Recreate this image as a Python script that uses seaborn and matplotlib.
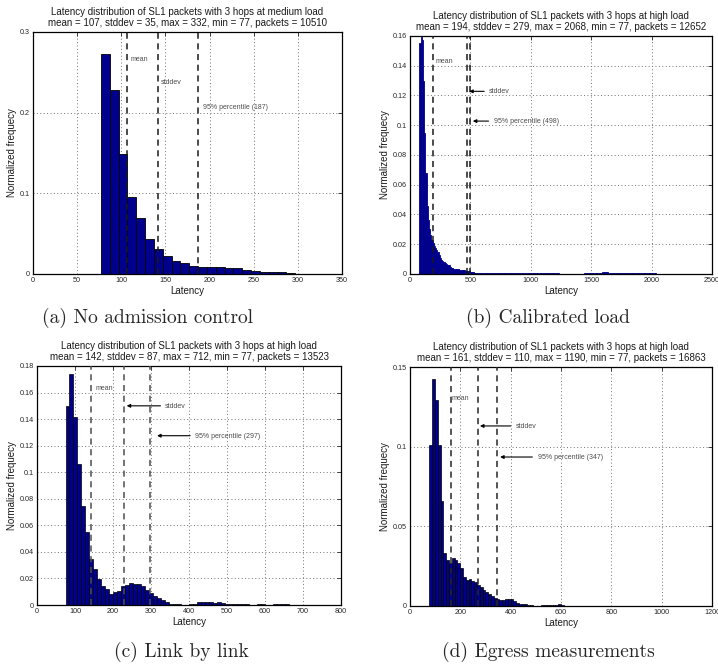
import numpy as np
import pandas as pd
import matplotlib
matplotlib.use("Agg")
import matplotlib.pyplot as plt
import seaborn as sns
from matplotlib.ticker import FuncFormatter

# ---------------- data ----------------
# (a) No admission control : bins of width 10 starting at 77
a_heights = [0.273, 0.228, 0.149, 0.096, 0.070, 0.044, 0.031, 0.0225, 0.016, 0.0135,
             0.0103, 0.009, 0.0087, 0.0087, 0.008, 0.007, 0.005, 0.0033, 0.0025, 0.002,
             0.002, 0.001, 0.0006, 0.0004, 0.0003, 0.0003]
a_stats = {"mean": 107, "std": 35, "p95": 187}

# (b) Calibrated load : fine bins of width 10 from 77 to 537, then 50-wide tail bins
b_fine = [0.155, 0.159, 0.157, 0.130, 0.095, 0.068, 0.046, 0.036, 0.030, 0.026,
          0.023, 0.021, 0.019, 0.0175, 0.0163, 0.0145, 0.0125, 0.011, 0.0095, 0.0085,
          0.0078, 0.0073, 0.0068, 0.0063, 0.0058, 0.005, 0.0042, 0.0037, 0.0035, 0.0034,
          0.0034, 0.0032, 0.0031, 0.003, 0.0029, 0.0027, 0.0026, 0.0024, 0.0022, 0.002,
          0.0018, 0.0017, 0.0016, 0.0014, 0.0012, 0.001]
b_tail = [0.0009, 0.0008, 0.0007, 0.0006, 0.0006, 0.0005, 0.0005, 0.0005, 0.0004, 0.0004,
          0.0004, 0.0004, 0.0004, 0.0004, 0.0003, 0.0003, 0.0003, 0.0003, 0.0004, 0.0006,
          0.0010, 0.0012, 0.0006, 0.0004, 0.0004, 0.0005, 0.0007, 0.0009, 0.0006, 0.0004,
          0.0003]
b_stats = {"mean": 194, "std": 279, "p95": 498}

# (c) Link by link : bins of width 10.5 starting at 75
c_heights = [0.150, 0.174, 0.1415, 0.106, 0.0744, 0.0553, 0.035, 0.027, 0.0193, 0.0143,
             0.012, 0.008, 0.0097, 0.0105, 0.014, 0.015, 0.0168, 0.016, 0.016, 0.014,
             0.0115, 0.009, 0.0068, 0.005, 0.0035, 0.002, 0.001, 0.0008, 0.0005, 0.0003,
             0.0003, 0.001, 0.001, 0.0025, 0.0025, 0.002, 0.002, 0.0015, 0.002, 0.0015,
             0.001, 0.001, 0.001, 0.0008, 0.0005, 0.0005, 0.0003, 0.0003, 0.0005, 0.0005,
             0.0003, 0.0003, 0.0005, 0.001, 0.0008, 0.0005, 0.0003, 0.0003, 0.0003, 0.0003,
             0.0003]
c_stats = {"mean": 142, "std": 87, "p95": 297}

# (d) Egress measurements : bins of width 11.125 from 77 to 611, then 50-wide tail bins
d_fine = [0.101, 0.1425, 0.129, 0.101, 0.066, 0.033, 0.029, 0.027, 0.030, 0.029,
          0.027, 0.024, 0.018, 0.0165, 0.017, 0.0155, 0.015, 0.013, 0.012, 0.010,
          0.009, 0.0077, 0.006, 0.005, 0.0045, 0.004, 0.0036, 0.0045, 0.0045, 0.0042,
          0.003, 0.002, 0.0015, 0.001, 0.001, 0.0006, 0.0005, 0.0003, 0.0003, 0.0003,
          0.0005, 0.0005, 0.0005, 0.0005, 0.0005, 0.0008, 0.001, 0.0005]
d_tail = [0.0003, 0.0003, 0.0003, 0.0003, 0.0003, 0.0002, 0.0002, 0.0002, 0.0001, 0.0001,
          0.0001, 0.0001]
d_stats = {"mean": 161, "std": 110, "p95": 347}

titles = [
    "Latency distribution of SL1 packets with 3 hops at medium load\n"
    "mean = 107, stddev = 35, max = 332, min = 77, packets = 10510",
    "Latency distribution of SL1 packets with 3 hops at high load\n"
    "mean = 194, stddev = 279, max = 2068, min = 77, packets = 12652",
    "Latency distribution of SL1 packets with 3 hops at high load\n"
    "mean = 142, stddev = 87, max = 712, min = 77, packets = 13523",
    "Latency distribution of SL1 packets with 3 hops at high load\n"
    "mean = 161, stddev = 110, max = 1190, min = 77, packets = 16863",
]
captions = ["(a) No admission control", "(b) Calibrated load",
            "(c) Link by link", "(d) Egress measurements"]
xlabel = "Latency"
ylabel = "Normalized frequecy"

# ---------------- bins ----------------
a_edges = 77 + 10 * np.arange(len(a_heights) + 1)
b_edges = np.concatenate([77 + 10 * np.arange(len(b_fine) + 1),
                          537 + 50 * np.arange(1, len(b_tail)), [2068]])
b_heights = b_fine + b_tail
c_edges = 75 + 10.5 * np.arange(len(c_heights) + 1)
d_edges = np.concatenate([77 + 11.125 * np.arange(len(d_fine) + 1),
                          611 + 50 * np.arange(1, len(d_tail)), [1190]])
d_heights = d_fine + d_tail

# ---------------- style ----------------
sns.set_style("white")
plt.rcParams["font.family"] = ["Liberation Sans", "DejaVu Sans"]

BAR = "#00008c"
fig = plt.figure(figsize=(7.18, 6.66), dpi=100)
W, H = 718, 666


def add_axes(l, r, t, b):
    return fig.add_axes([l / W, 1 - b / H, (r - l) / W, (b - t) / H])


axs = [add_axes(33, 342, 32, 274), add_axes(410, 712, 36, 274),
       add_axes(37, 341, 366, 605), add_axes(410, 712, 367, 606)]

panels = [
    dict(edges=a_edges, h=a_heights, ec="black", lw=0.6, xlim=(0, 350), xt=np.arange(0, 351, 50),
         ylim=(0, 0.3), yt=[0, 0.1, 0.2, 0.3], st=a_stats, lc="0.1",
         texts=[(110, 0.266, "mean"), (145, 0.237, "stddev"), (192, 0.206, "95% percentile (187)")],
         arrows=[]),
    dict(edges=b_edges, h=b_heights, ec=BAR, lw=0.6, xlim=(0, 2500), xt=np.arange(0, 2501, 500),
         ylim=(0, 0.16), yt=np.arange(0, 0.161, 0.02), st=b_stats, lc="0.1",
         texts=[(210, 0.143, "mean"), (655, 0.1225, "stddev"), (695, 0.1025, "95% percentile (498)")],
         arrows=[(490, 614, 0.1228), (520, 650, 0.1028)]),
    dict(edges=c_edges, h=c_heights, ec="black", lw=0.5, xlim=(0, 800), xt=np.arange(0, 801, 100),
         ylim=(0, 0.18), yt=np.arange(0, 0.181, 0.02), st=c_stats, lc="0.3",
         texts=[(153, 0.163, "mean"), (336, 0.1495, "stddev"), (415, 0.127, "95% percentile (297)")],
         arrows=[(236, 325, 0.150), (316, 403, 0.1275)]),
    dict(edges=d_edges, h=d_heights, ec="black", lw=0.5, xlim=(0, 1200), xt=np.arange(0, 1201, 200),
         ylim=(0, 0.15), yt=[0, 0.05, 0.1, 0.15], st=d_stats, lc="0.15",
         texts=[(166, 0.1305, "mean"), (421, 0.1125, "stddev"), (510, 0.093, "95% percentile (347)")],
         arrows=[(278, 400, 0.113), (358, 486, 0.0935)]),
]

fmt = FuncFormatter(lambda v, p: f"{v:g}")

for ax, p, title in zip(axs, panels, titles):
    edges = np.asarray(p["edges"], dtype=float)
    df = pd.DataFrame({"latency": (edges[:-1] + edges[1:]) / 2,
                       "freq": np.asarray(p["h"], dtype=float)})
    sns.histplot(data=df, x="latency", weights="freq", bins=list(edges), stat="count",
                 color=BAR, edgecolor=p["ec"], linewidth=p["lw"], alpha=1, ax=ax)
    ax.set_xlim(*p["xlim"])
    ax.set_ylim(*p["ylim"])
    ax.set_xticks(p["xt"])
    ax.set_yticks(p["yt"])
    ax.xaxis.set_major_formatter(fmt)
    ax.yaxis.set_major_formatter(fmt)
    ax.set_axisbelow(True)
    ax.grid(True, linestyle=(0, (1, 2.5)), color="0.45", linewidth=0.7)
    ax.tick_params(direction="in", top=True, right=True, length=3, width=0.6,
                   labelsize=5.2, pad=2, colors="0.15")
    for s in ax.spines.values():
        s.set_color("black")
        s.set_linewidth(0.9)
        s.set_visible(True)
    st = p["st"]
    for xv in (st["mean"], st["mean"] + st["std"], st["p95"]):
        ax.axvline(xv, color=p["lc"], linestyle=(0, (4, 3)), linewidth=1.1, zorder=3)
    for x, y, s in p["texts"]:
        ax.text(x, y, s, fontsize=5, color="0.3", va="center", ha="left")
    for tip, tail, y in p["arrows"]:
        ax.annotate("", xy=(tip, y), xytext=(tail, y),
                    arrowprops=dict(arrowstyle="-|>", color="black", lw=0.8,
                                    mutation_scale=5, shrinkA=0, shrinkB=0))
    ax.set_title(title, fontsize=7, pad=4, linespacing=1.15, color="0.1")
    ax.set_xlabel(xlabel, fontsize=7, labelpad=1.5, color="0.1")
    ax.set_ylabel(ylabel, fontsize=7, labelpad=2, color="0.1")

cap_pos = [(148, 318), (548, 318), (181, 652), (548, 652)]
for (cx, cy), cap in zip(cap_pos, captions):
    fig.text(cx / W, 1 - cy / H, cap, fontfamily="cmr10", fontsize=14,
             ha="center", va="center")

fig.savefig("out.png", dpi=100)
